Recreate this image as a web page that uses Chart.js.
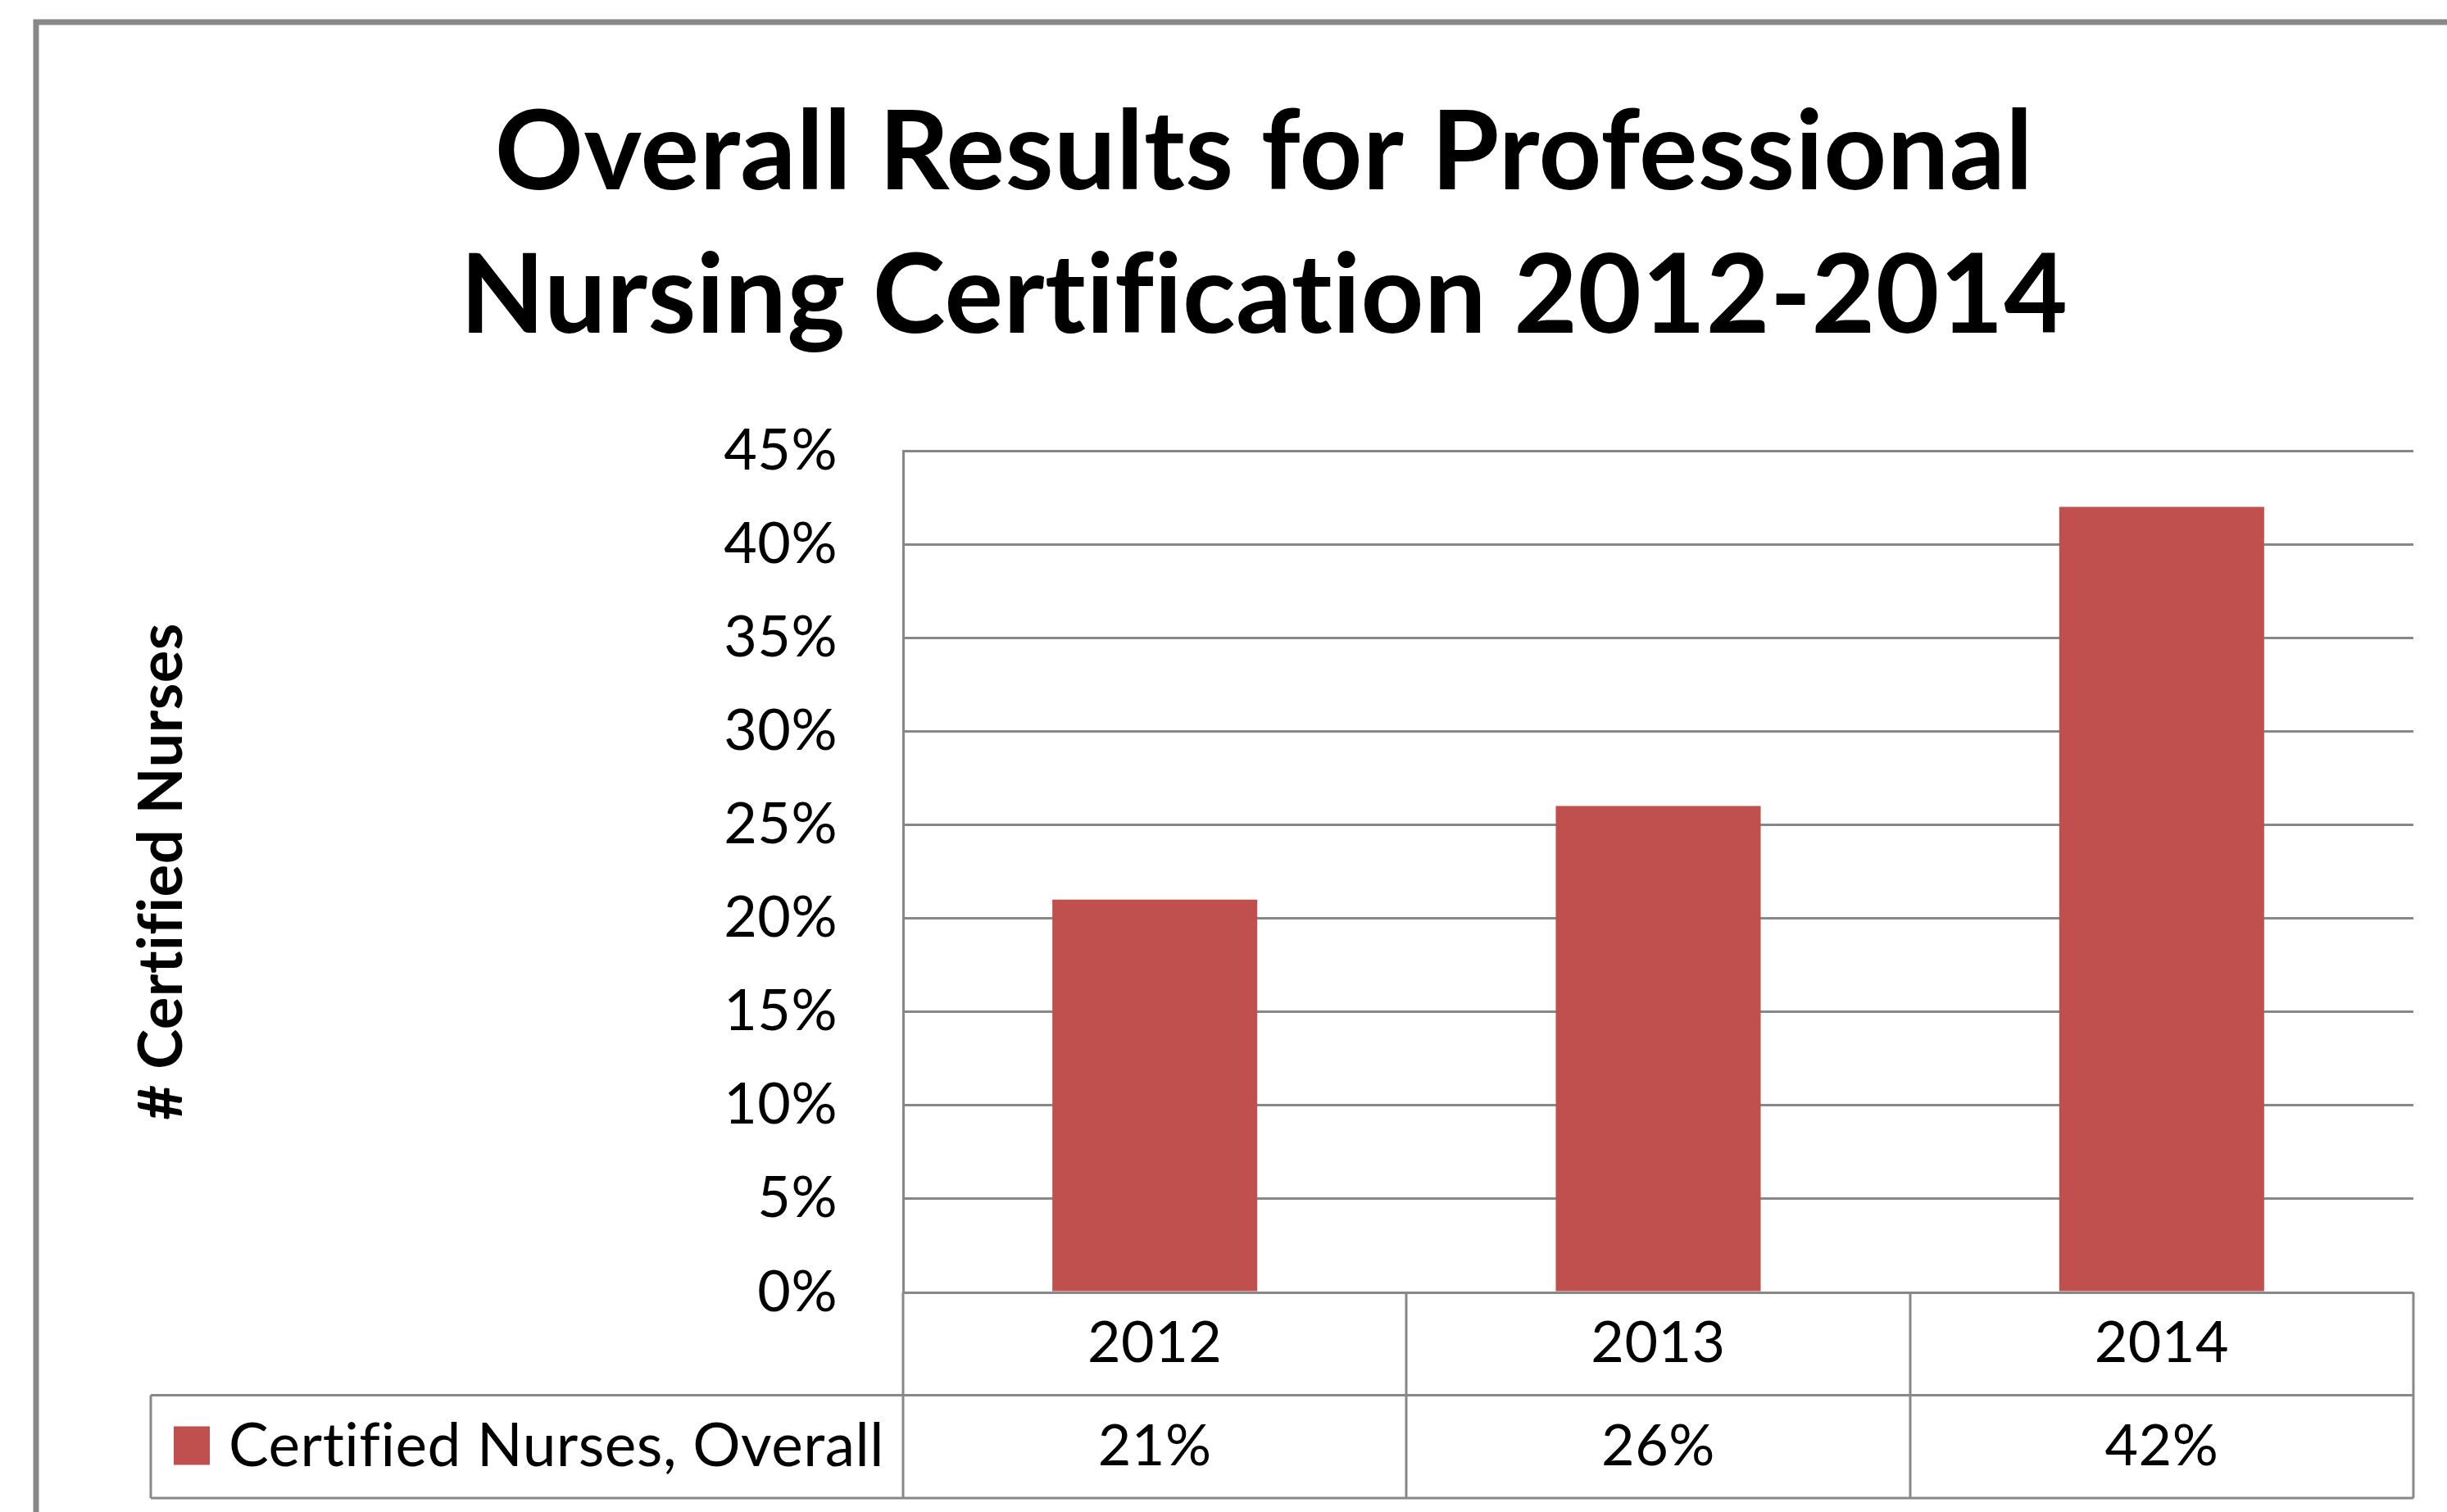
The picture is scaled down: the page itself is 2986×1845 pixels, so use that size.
<!DOCTYPE html>
<html>
<head>
<meta charset="utf-8">
<title>Overall Results for Professional Nursing Certification 2012-2014</title>
<script src="https://cdn.jsdelivr.net/npm/chart.js@4.4.1/dist/chart.umd.min.js"></script>
<style>
  html, body { margin: 0; padding: 0; background: #fff; }
  canvas { display: block; }
</style>
</head>
<body>
<canvas id="certChart" width="2986" height="1845"></canvas>
<script>
// data
const years = ['2012', '2013', '2014'];
const certifiedPct = [21, 26, 42];
const seriesName = 'Certified Nurses, Overall';
const chartTitle = ['Overall Results for Professional', 'Nursing Certification 2012-2014'];
const yAxisTitle = '# Certified Nurses';

const barColor = '#C0504D';
const lineColor = '#888888';
const fontFamily = 'Lato, "Open Sans", sans-serif';

// outer frame of the chart (only top and left edges are visible)
const framePlugin = {
  id: 'frame',
  beforeDraw(chart) {
    const ctx = chart.ctx;
    // a tiny letter spacing keeps Lato from drawing "fi"/"ti" ligatures
    ctx.letterSpacing = '0.5px';
    ctx.save();
    ctx.fillStyle = '#fff';
    ctx.fillRect(0, 0, chart.width, chart.height);
    ctx.strokeStyle = lineColor;
    ctx.lineWidth = 7;
    ctx.beginPath();
    ctx.moveTo(44, chart.height);
    ctx.lineTo(44, 27);
    ctx.lineTo(chart.width, 27);
    ctx.stroke();
    ctx.restore();
  }
};

// Excel-style data table under the plot, with the legend key in the first column
const dataTablePlugin = {
  id: 'dataTable',
  afterDraw(chart) {
    const ctx = chart.ctx;
    const area = chart.chartArea;
    const x = chart.scales.x;
    const rowH = 125.5;
    const top = area.bottom;
    const mid = top + rowH;
    const bottom = mid + rowH;
    const legendLeft = 184;
    const colW = (area.right - area.left) / years.length;

    ctx.save();
    ctx.letterSpacing = '0.5px';
    ctx.strokeStyle = lineColor;
    ctx.lineWidth = 3;
    ctx.beginPath();
    // horizontal rules
    ctx.moveTo(legendLeft, mid); ctx.lineTo(area.right, mid);
    ctx.moveTo(legendLeft, bottom); ctx.lineTo(area.right, bottom);
    // legend cell left edge
    ctx.moveTo(legendLeft, mid); ctx.lineTo(legendLeft, bottom);
    // column separators
    for (let i = 0; i <= years.length; i++) {
      const cx = Math.round(area.left + i * colW);
      ctx.moveTo(cx, top); ctx.lineTo(cx, bottom);
    }
    ctx.stroke();

    ctx.fillStyle = '#000';
    ctx.font = `70px ${fontFamily}`;
    ctx.textAlign = 'center';
    ctx.textBaseline = 'middle';
    years.forEach((yr, i) => {
      const cx = x.getPixelForValue(i);
      ctx.fillText(yr, cx, top + rowH / 2);
      ctx.fillText(certifiedPct[i] + '%', cx, mid + rowH / 2);
    });

    // legend key
    ctx.fillStyle = barColor;
    ctx.fillRect(212, mid + 38, 44, 47);
    ctx.fillStyle = '#000';
    ctx.textAlign = 'left';
    ctx.font = `73px ${fontFamily}`;
    ctx.fillText(seriesName, 279, mid + rowH / 2);
    ctx.restore();
  }
};

new Chart(document.getElementById('certChart'), {
  type: 'bar',
  data: {
    labels: years,
    datasets: [{
      label: seriesName,
      data: certifiedPct,
      backgroundColor: barColor,
      borderWidth: 0,
      categoryPercentage: 1,
      barPercentage: 0.407
    }]
  },
  options: {
    responsive: false,
    animation: false,
    events: [],
    layout: {
      padding: { left: 140, right: 41, top: 0, bottom: 268 }
    },
    plugins: {
      legend: { display: false },
      tooltip: { enabled: false },
      title: {
        display: true,
        text: chartTitle,
        color: '#000',
        font: { family: fontFamily, size: 134, weight: 'bold', lineHeight: 175 / 134 },
        padding: { top: 100, bottom: 100 }
      }
    },
    scales: {
      x: {
        display: false
      },
      y: {
        min: 0,
        max: 45,
        ticks: {
          stepSize: 5,
          padding: 80,
          color: '#000',
          font: { family: fontFamily, size: 70 },
          callback: v => v + '%'
        },
        grid: {
          color: lineColor,
          lineWidth: 3,
          drawTicks: false
        },
        border: {
          display: true,
          color: lineColor,
          width: 3
        },
        title: {
          display: true,
          text: yAxisTitle,
          color: '#000',
          font: { family: fontFamily, size: 74, weight: 'bold' },
          padding: { top: 14, bottom: 0 }
        },
        afterFit: scale => { scale.width = 1102 - 140; }
      }
    }
  },
  plugins: [framePlugin, dataTablePlugin]
});
</script>
</body>
</html>
